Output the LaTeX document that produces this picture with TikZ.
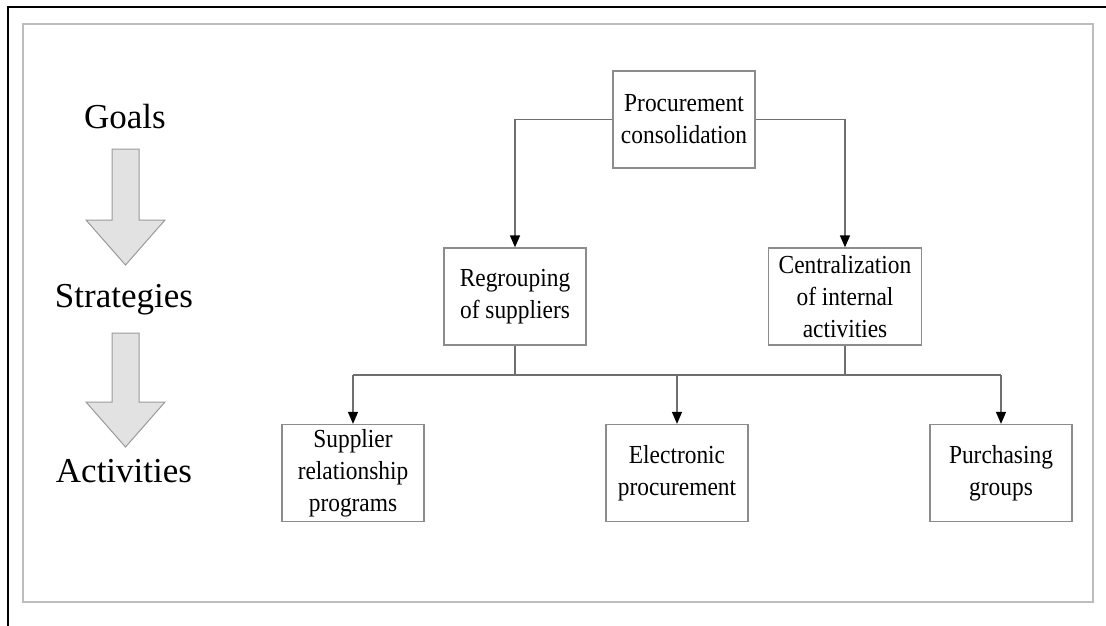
\documentclass[tikz,border=0pt]{standalone}
\usepackage{fontspec}
\setmainfont{Liberation Serif}
\newfontfamily\boxfont[FakeStretch=0.9]{Liberation Serif}
\usetikzlibrary{arrows.meta}
\definecolor{boxgray}{HTML}{8C8C8C}
\definecolor{linegray}{HTML}{6E6E6E}
\definecolor{arrfill}{HTML}{E2E2E2}
\definecolor{arrdraw}{HTML}{9A9A9A}
\definecolor{framegray}{HTML}{BDBDBD}
\tikzset{
  box/.style={draw=boxgray, line width=1.3pt, minimum width=142pt, minimum height=97pt,
    inner sep=0pt, align=center, font=\boxfont\fontsize{26}{32}\selectfont},
  conn/.style={draw=linegray, line width=1.4pt},
  arr/.style={conn, -{Triangle[width=10pt,length=12pt,color=black]}},
  level/.style={font=\fontsize{35}{40}\selectfont, anchor=base},
  bigarrow/.style={fill=arrfill, draw=arrdraw, line width=1pt}
}
\begin{document}
\begin{tikzpicture}[x=1pt,y=-1pt]
\useasboundingbox (0,0) rectangle (1106,625);
\fill[white] (0,0) rectangle (1106,625);
% frames
\draw[black, line width=2.5pt] (8,630) -- (8,7) -- (1112,7);
\draw[framegray, line width=1.5pt] (23,24) rectangle (1093,602);
% left levels
\node[level] (goals) at (125,128) {Goals};
\node[level] (strat) at (124,307) {Strategies};
\node[level] (activ) at (124,482) {Activities};
\draw[bigarrow] (112,149) -- (139,149) -- (139,220) -- (165,220) -- (125.5,265) -- (86,220) -- (112,220) -- cycle;
\draw[bigarrow] (112,333) -- (139,333) -- (139,402) -- (165,402) -- (125.5,447) -- (86,402) -- (112,402) -- cycle;
% boxes
\node[box] (proc) at (684,119.5) {Procurement\\consolidation};
\node[box] (regr) at (515,296.5) {Regrouping\\of suppliers};
\node[box, minimum width=153pt] (cent) at (845,296.5) {Centralization\\of internal\\activities};
\node[box] (supp) at (353,473) {Supplier\\relationship\\programs};
\node[box] (elec) at (677,473) {Electronic\\procurement};
\node[box] (purc) at (1001,473) {Purchasing\\groups};
\coordinate (bus) at (0,375);
% connectors
\draw[arr] (proc.west) -| (regr.north);
\draw[arr] (proc.east) -| (cent.north);
\draw[conn] (regr.south) -- (regr.south |- bus);
\draw[conn] (cent.south) -- (cent.south |- bus);
\draw[conn] (supp.north |- bus) -- (purc.north |- bus);
\draw[arr] (supp.north |- bus) -- (supp.north);
\draw[arr] (elec.north |- bus) -- (elec.north);
\draw[arr] (purc.north |- bus) -- (purc.north);
\end{tikzpicture}
\end{document}
